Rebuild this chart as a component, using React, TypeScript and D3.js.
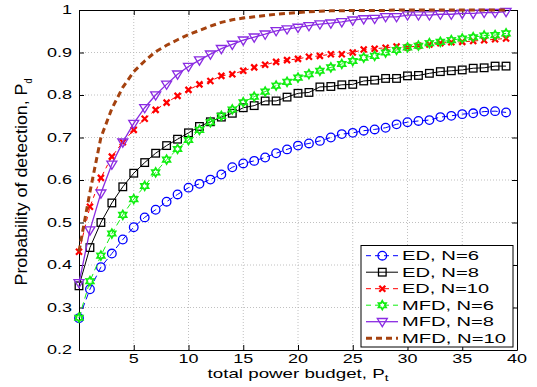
import React, { useEffect, useRef } from "react";
import * as d3 from "d3";

// sample index of every curve (total power budget)
const budget = [
  0, 1, 2, 3, 4, 5, 6, 7, 8, 9, 10, 11, 12, 13, 14, 15, 16, 17, 18, 19,
  20, 21, 22, 23, 24, 25, 26, 27, 28, 29, 30, 31, 32, 33, 34, 35, 36, 37, 38, 39,
];

const edN6 = [
  0.275, 0.343, 0.395, 0.427, 0.46, 0.489, 0.512, 0.53, 0.549, 0.566,
  0.582, 0.591, 0.601, 0.613, 0.63, 0.639, 0.645, 0.653, 0.663, 0.672,
  0.681, 0.686, 0.692, 0.7, 0.708, 0.711, 0.716, 0.719, 0.723, 0.731,
  0.736, 0.739, 0.741, 0.748, 0.751, 0.755, 0.757, 0.761, 0.762, 0.759,
];
const edN8 = [
  0.351, 0.441, 0.5, 0.546, 0.584, 0.616, 0.641, 0.663, 0.681, 0.696,
  0.711, 0.726, 0.737, 0.748, 0.757, 0.77, 0.775, 0.786, 0.786, 0.795,
  0.804, 0.806, 0.819, 0.82, 0.824, 0.825, 0.833, 0.835, 0.839, 0.839,
  0.845, 0.846, 0.851, 0.855, 0.857, 0.859, 0.863, 0.864, 0.868, 0.868,
];
const edN10 = [
  0.431, 0.537, 0.605, 0.655, 0.689, 0.718, 0.744, 0.765, 0.782, 0.798,
  0.812, 0.825, 0.833, 0.845, 0.849, 0.857, 0.865, 0.871, 0.878, 0.882,
  0.885, 0.89, 0.892, 0.896, 0.896, 0.9, 0.907, 0.909, 0.911, 0.914,
  0.912, 0.916, 0.919, 0.922, 0.924, 0.925, 0.927, 0.929, 0.931, 0.933,
];
const mfdN6 = [
  0.276, 0.362, 0.422, 0.474, 0.518, 0.555, 0.586, 0.618, 0.648, 0.673,
  0.694, 0.718, 0.736, 0.751, 0.766, 0.783, 0.796, 0.808, 0.822, 0.831,
  0.841, 0.849, 0.857, 0.865, 0.873, 0.88, 0.888, 0.892, 0.9, 0.906,
  0.912, 0.916, 0.922, 0.925, 0.929, 0.933, 0.936, 0.94, 0.941, 0.945,
];
const mfdN8 = [
  0.358, 0.482, 0.569, 0.637, 0.689, 0.733, 0.77, 0.8, 0.825, 0.849,
  0.867, 0.882, 0.896, 0.909, 0.919, 0.929, 0.936, 0.943, 0.951, 0.955,
  0.959, 0.963, 0.967, 0.969, 0.972, 0.976, 0.979, 0.98, 0.984, 0.984,
  0.988, 0.988, 0.988, 0.99, 0.99, 0.992, 0.992, 0.994, 0.994, 0.996,
];
const mfdN10 = [
  0.432, 0.572, 0.7, 0.768, 0.818, 0.855, 0.88, 0.902, 0.917, 0.93,
  0.942, 0.952, 0.962, 0.971, 0.977, 0.981, 0.984, 0.987, 0.99, 0.992,
  0.994, 0.996, 0.997, 0.998, 0.998, 0.999, 0.999, 0.999, 0.999, 1.0,
  1.0, 1.0, 1.0, 1.0, 1.0, 1.0, 1.0, 1.0, 1.0, 1.0,
];

const seriesNames = ["ED, N=6", "ED, N=8", "ED, N=10", "MFD, N=6", "MFD, N=8", "MFD, N=10"];
const xTicks = [5, 10, 15, 20, 25, 30, 35, 40];
const yTicks = [0.2, 0.3, 0.4, 0.5, 0.6, 0.7, 0.8, 0.9, 1];

type Style = { color: string; dash: string | null; width: number; marker: string | null };

const styles: Style[] = [
  { color: "#0000ff", dash: "6,4", width: 1, marker: "circle" },
  { color: "#000000", dash: null, width: 1, marker: "square" },
  { color: "#ff0000", dash: "4,4", width: 1, marker: "x" },
  { color: "#11ee11", dash: "6,4", width: 1, marker: "hexagram" },
  { color: "#8a2be2", dash: null, width: 1.3, marker: "triangle" },
  { color: "#a5420f", dash: "6,4", width: 3, marker: null },
];

const hexagramPath = (() => {
  const pts: string[] = [];
  for (let i = 0; i < 12; i++) {
    const r = i % 2 === 0 ? 4.4 : 2.5;
    const a = (Math.PI / 6) * i - Math.PI / 2;
    pts.push(`${(r * Math.cos(a)).toFixed(2)},${(r * Math.sin(a)).toFixed(2)}`);
  }
  return "M" + pts.join("L") + "Z";
})();

const drawMarker = (g: any, kind: string | null, color: string) => {
  if (kind === "circle") {
    g.append("circle").attr("r", 4.3).attr("fill", "none").attr("stroke", color).attr("stroke-width", 1.3);
  } else if (kind === "square") {
    g.append("rect").attr("x", -3.8).attr("y", -3.8).attr("width", 7.6).attr("height", 7.6)
      .attr("fill", "none").attr("stroke", color).attr("stroke-width", 1.3);
  } else if (kind === "x") {
    g.append("path").attr("d", "M-3,-3L3,3M-3,3L3,-3").attr("stroke", color).attr("stroke-width", 2.2);
  } else if (kind === "hexagram") {
    g.append("path").attr("d", hexagramPath).attr("fill", "none").attr("stroke", color).attr("stroke-width", 1.7);
  } else if (kind === "triangle") {
    g.append("path").attr("d", "M-5,-3.2L5,-3.2L0,5Z").attr("fill", "none").attr("stroke", color).attr("stroke-width", 1.3);
  }
};

const App = () => {
  const svgRef = useRef<SVGSVGElement>(null);

  useEffect(() => {
    const svg = d3.select(svgRef.current);
    svg.selectAll("*").remove();

    const margin = { top: 10, right: 20, bottom: 37, left: 79 };
    const width = 537;
    const height = 387;
    const font = "'Liberation Sans', Arial, Helvetica, sans-serif";
    const stretch = 1.5; // the figure's text is wide

    const x = d3.scaleLinear().domain([0, 40]).range([margin.left, width - margin.right]);
    const y = d3.scaleLinear().domain([0.2, 1]).range([height - margin.bottom, margin.top]);

    svg.append("rect").attr("width", width).attr("height", height).attr("fill", "#fff");

    // grid
    const grid = svg.append("g").attr("stroke", "#b0b0b0").attr("stroke-width", 0.8).attr("stroke-dasharray", "1,2");
    xTicks.filter((t) => t < 40).forEach((t) => {
      grid.append("line").attr("x1", x(t)).attr("x2", x(t)).attr("y1", y(0.2)).attr("y2", y(1));
    });
    yTicks.filter((t) => t > 0.2 && t < 1).forEach((t) => {
      grid.append("line").attr("x1", x(0)).attr("x2", x(40)).attr("y1", y(t)).attr("y2", y(t));
    });

    // axes with inward ticks on all four sides
    const tickLen = 5;
    const noLabel = () => "";
    svg.append("g").attr("transform", `translate(0,${y(0.2)})`)
      .call(d3.axisBottom(x).tickValues(xTicks).tickSizeInner(-tickLen).tickSizeOuter(0).tickFormat(noLabel));
    svg.append("g").attr("transform", `translate(0,${y(1)})`)
      .call(d3.axisTop(x).tickValues(xTicks).tickSizeInner(-tickLen).tickSizeOuter(0).tickFormat(noLabel));
    svg.append("g").attr("transform", `translate(${x(0)},0)`)
      .call(d3.axisLeft(y).tickValues(yTicks).tickSizeInner(-tickLen).tickSizeOuter(0).tickFormat(noLabel));
    svg.append("g").attr("transform", `translate(${x(40)},0)`)
      .call(d3.axisRight(y).tickValues(yTicks).tickSizeInner(-tickLen).tickSizeOuter(0).tickFormat(noLabel));
    svg.selectAll(".domain").attr("stroke", "#000").attr("stroke-width", 1);
    svg.selectAll(".tick line").attr("stroke", "#000");

    // tick labels
    const labels = svg.append("g").attr("font-family", font).attr("font-size", 12).attr("fill", "#000");
    xTicks.forEach((t) => {
      labels.append("text").attr("transform", `translate(${x(t)},362.5) scale(${stretch},1)`)
        .attr("text-anchor", "middle").text(String(t));
    });
    yTicks.forEach((t) => {
      labels.append("text").attr("transform", `translate(72,${y(t) + 4.3}) scale(${stretch},1)`)
        .attr("text-anchor", "end").text(t === 1 ? "1" : d3.format(".1f")(t));
    });

    // curves
    const allSeries = [edN6, edN8, edN10, mfdN6, mfdN8, mfdN10];
    const line = d3.line<number>().x((_, i) => x(budget[i])).y((d) => y(d));
    const plot = svg.append("g");
    allSeries.forEach((vals, si) => {
      const s = styles[si];
      plot.append("path").datum(vals).attr("d", line).attr("fill", "none")
        .attr("stroke", s.color).attr("stroke-width", s.width)
        .attr("stroke-dasharray", s.dash ?? null);
      if (s.marker) {
        vals.forEach((v, i) => {
          const g = plot.append("g").attr("transform", `translate(${x(budget[i])},${y(v)})`);
          drawMarker(g, s.marker, s.color);
        });
      }
    });

    // axis labels
    svg.append("text").attr("transform", `translate(${(x(0) + x(40)) / 2},377.5) scale(${stretch},1)`)
      .attr("text-anchor", "middle").attr("font-family", font).attr("font-size", 12.5)
      .html('total power budget, P<tspan font-size="9" dy="3.5">t</tspan>');
    svg.append("text").attr("transform", `translate(27,${(y(0.2) + y(1)) / 2 + 2}) rotate(-90) scale(1,1.3)`)
      .attr("text-anchor", "middle").attr("font-family", font).attr("font-size", 13)
      .html('<tspan textLength="202" lengthAdjust="spacingAndGlyphs">Probability of detection, P</tspan><tspan font-size="9" dy="3.5">d</tspan>');

    // legend
    const legendWidths = [77, 77, 87, 92, 92, 104];
    const lg = svg.append("g").attr("transform", "translate(361,245.5)");
    lg.append("rect").attr("width", 152).attr("height", 101.5).attr("fill", "#fff").attr("stroke", "#000").attr("stroke-width", 1);
    seriesNames.forEach((name, i) => {
      const s = styles[i];
      const cy = 10.2 + i * 16.5;
      lg.append("line").attr("x1", 5).attr("x2", 37).attr("y1", cy).attr("y2", cy)
        .attr("stroke", s.color).attr("stroke-width", s.width)
        .attr("stroke-dasharray", s.dash ? (s.width > 2 ? "6,4" : "5,4") : null);
      const g = lg.append("g").attr("transform", `translate(21.3,${cy})`);
      drawMarker(g, s.marker, s.color);
      lg.append("text").attr("x", 41).attr("y", cy + 4.6).attr("font-family", font).attr("font-size", 12.5)
        .attr("textLength", legendWidths[i]).attr("lengthAdjust", "spacingAndGlyphs").text(name);
    });
  }, []);

  return (
    <svg ref={svgRef} width={537} height={387} style={{ position: "absolute", left: 0, top: 0 }}></svg>
  );
};

export default App;
